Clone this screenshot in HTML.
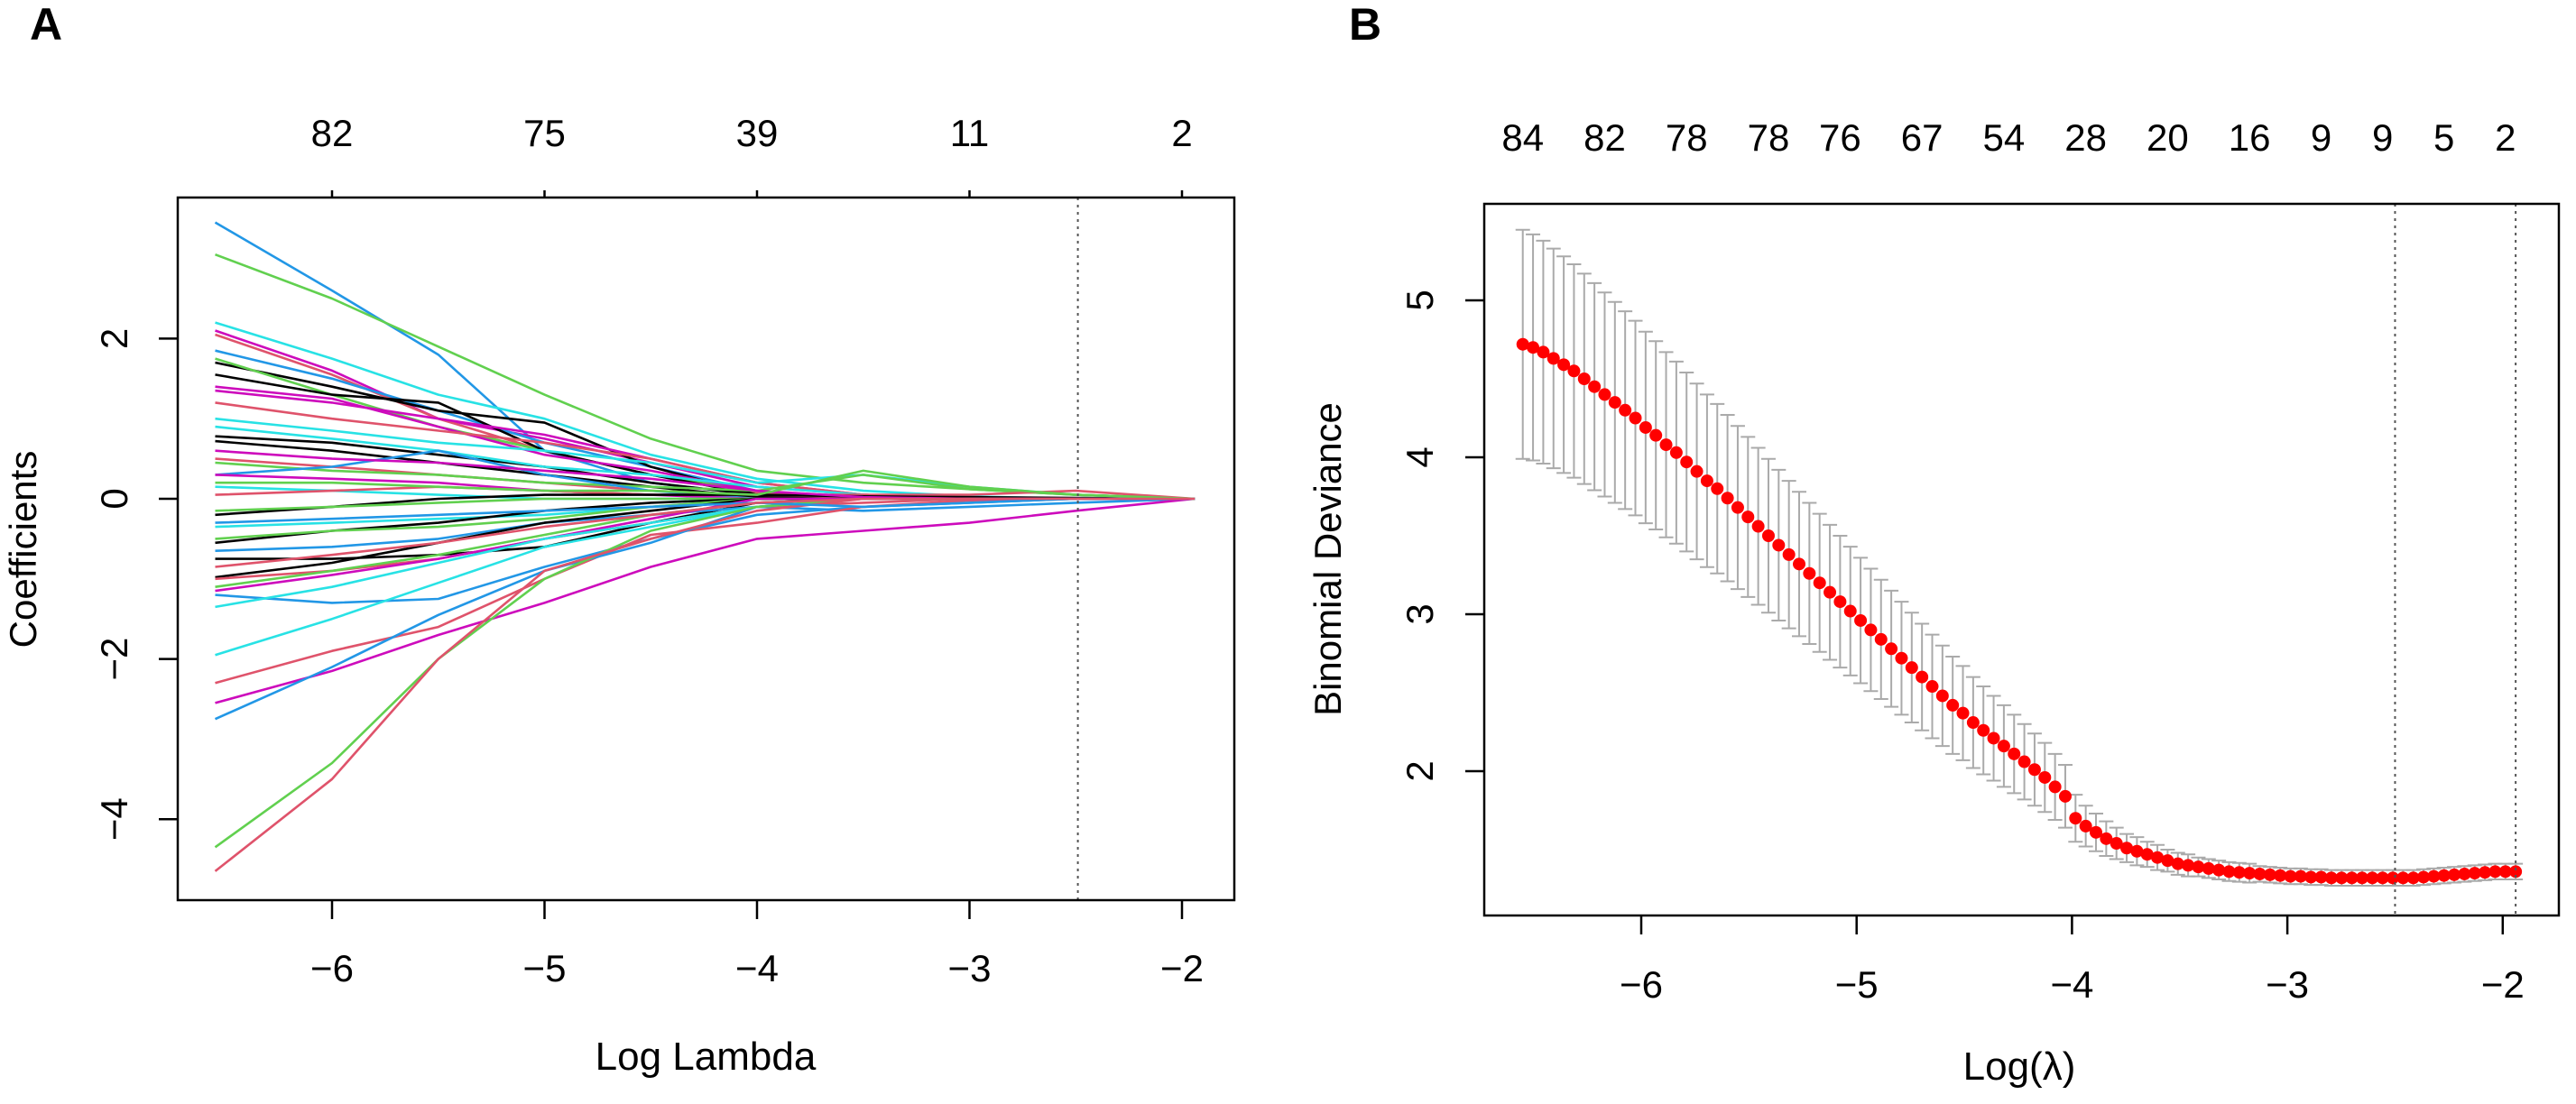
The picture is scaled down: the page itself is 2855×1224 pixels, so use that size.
<!DOCTYPE html>
<html><head><meta charset="utf-8"><style>
html,body{margin:0;padding:0;background:#fff}
svg{display:block}
text{font-family:"Liberation Sans Narrow","Liberation Sans",sans-serif;fill:#000}
</style></head><body>
<svg id="chart" width="2855" height="1224" viewBox="0 0 2855 1224" xmlns="http://www.w3.org/2000/svg">
<text x="33" y="44" font-size="50" font-weight="bold" style="font-family:'Liberation Sans',sans-serif">A</text>
<text x="1495" y="44" font-size="50" font-weight="bold" style="font-family:'Liberation Sans',sans-serif">B</text>
<g id="pa"></g>
<g id="pb"></g>
</svg>
<script>
// ---------- Panel A data ----------
const aKnotsX = [-6.55,-6,-5.5,-5,-4.5,-4,-3.5,-3,-2.5,-1.94];
const aXTicks = [-6,-5,-4,-3,-2];
const aTopLabels = ["82","75","39","11","2"];
const aYTicks = [-4,-2,0,2];
const aVline = -2.49;
const aColors = ["#2297E6","#61D04F","#28E2E5","#CD0BBC","#DF536B","#2297E6","#000000","#61D04F","#000000","#CD0BBC","#CD0BBC","#DF536B","#28E2E5","#000000","#000000","#28E2E5","#DF536B","#61D04F","#2297E6","#CD0BBC","#28E2E5","#DF536B","#000000","#61D04F","#28E2E5","#000000","#61D04F","#000000","#2297E6","#000000","#DF536B","#61D04F","#CD0BBC","#2297E6","#28E2E5","#28E2E5","#DF536B","#CD0BBC","#2297E6","#61D04F","#DF536B","#CD0BBC","#2297E6","#61D04F","#DF536B"];
const aPaths = [
[3.45,2.6,1.8,0.6,0.2,0.05,0.02,0,0,0],
[3.05,2.5,1.9,1.3,0.75,0.35,0.2,0.12,0.05,0],
[2.2,1.75,1.3,1.0,0.55,0.25,0.1,0.03,0,0],
[2.1,1.6,1.0,0.75,0.45,0.15,0.05,0,0,0],
[2.05,1.55,1.0,0.6,0.3,0.08,0,0,0,0],
[1.85,1.5,1.1,0.7,0.4,0.1,0,0,0,0],
[1.7,1.4,1.1,0.95,0.4,0.05,0,0,0,0],
[1.75,1.3,0.9,0.6,0.3,0.1,0,0,0,0],
[1.55,1.3,1.2,0.6,0.3,0.05,0,0,0,0],
[1.4,1.25,0.9,0.55,0.35,0.1,0,0,0,0],
[1.35,1.2,1.0,0.8,0.5,0.2,0.05,0,0,0],
[1.2,1.0,0.85,0.7,0.5,0.2,0.05,0,0,0],
[1.0,0.85,0.7,0.6,0.45,0.2,0.3,0.15,0.05,0],
[0.78,0.7,0.55,0.4,0.2,0.05,0,0,0,0],
[0.72,0.6,0.45,0.3,0.15,0.02,0,0,0,0],
[0.9,0.75,0.6,0.4,0.3,0.15,0.05,0,0,0],
[0.5,0.4,0.3,0.2,0.1,0.05,0.02,0,0,0],
[0.45,0.35,0.3,0.2,0.15,0.1,0.3,0.12,0.05,0],
[0.3,0.4,0.6,0.3,0.1,0,0,0,0,0],
[0.3,0.25,0.2,0.1,0.05,0,0,0,0,0],
[0.15,0.1,0.05,0,0,0,0,0,0,0],
[0.05,0.1,0.15,0.1,0.05,0.05,0.05,0.05,0.1,0],
[-0.2,-0.1,0.0,0.05,0.05,0.05,0.03,0.02,0.01,0],
[-0.15,-0.1,-0.05,0,0,0,0,0,0,0],
[-0.35,-0.3,-0.25,-0.2,-0.1,0,0,0,0,0],
[-0.55,-0.4,-0.3,-0.15,-0.05,0,0,0,0,0],
[-0.5,-0.4,-0.35,-0.25,-0.1,0,0,0,0,0],
[-0.75,-0.75,-0.7,-0.6,-0.3,-0.05,0,0,0,0],
[-0.65,-0.6,-0.5,-0.3,-0.2,-0.1,-0.15,-0.1,-0.05,0],
[-0.98,-0.8,-0.55,-0.3,-0.15,0,0,0,0,0],
[-1.0,-0.9,-0.75,-0.5,-0.3,-0.1,-0.05,0,0,0],
[-1.1,-0.9,-0.7,-0.45,-0.2,-0.05,0,0,0,0],
[-1.15,-0.95,-0.75,-0.5,-0.25,0,0,0,0,0],
[-1.2,-1.3,-1.25,-0.85,-0.5,-0.2,-0.1,-0.05,0,0],
[-1.35,-1.1,-0.8,-0.5,-0.3,-0.1,0,0,0,0],
[-1.95,-1.5,-1.05,-0.6,-0.35,-0.1,0,0,0,0],
[-2.3,-1.9,-1.6,-1.0,-0.45,-0.3,-0.1,-0.02,0,0],
[-2.55,-2.15,-1.7,-1.3,-0.85,-0.5,-0.4,-0.3,-0.15,0],
[-2.75,-2.1,-1.45,-0.9,-0.55,-0.1,0,0,0,0],
[-4.35,-3.3,-2.0,-1.0,-0.4,-0.1,0,0,0,0],
[-4.65,-3.5,-2.0,-0.9,-0.5,-0.15,0,0,0,0],
[0.6,0.5,0.45,0.35,0.25,0.1,0.02,0,0,0],
[-0.3,-0.25,-0.2,-0.15,-0.1,-0.05,-0.1,-0.05,0,0],
[0.2,0.2,0.15,0.1,0.1,0.05,0.35,0.15,0.05,0],
[-0.85,-0.7,-0.55,-0.35,-0.2,-0.05,0,0,0,0]
];
// ---------- Panel B data ----------
const bMean = [4.72,4.70,4.67,4.63,4.59,4.55,4.50,4.45,4.40,4.35,4.30,4.25,
4.19,4.14,4.08,4.03,3.97,3.91,3.85,3.80,3.74,3.68,3.62,3.56,
3.50,3.44,3.38,3.32,3.26,3.20,3.14,3.08,3.02,2.96,2.90,2.84,
2.78,2.72,2.66,2.60,2.54,2.48,2.42,2.37,2.31,2.26,2.21,2.16,
2.11,2.06,2.01,1.96,1.90,1.84,1.70,1.65,1.61,1.57,1.54,1.51,
1.49,1.47,1.45,1.43,1.41,1.40,1.39,1.38,1.37,1.36,1.355,1.35,
1.345,1.34,1.335,1.33,1.33,1.325,1.325,1.32,1.32,1.32,1.32,1.32,
1.32,1.32,1.32,1.32,1.325,1.33,1.335,1.34,1.345,1.35,1.355,1.36,1.36,1.36];
const bSE = [.73,.72,.71,.70,.69,.68,.67,.66,.65,.64,.63,.62,
.61,.60,.59,.58,.57,.56,.55,.54,.53,.52,.51,.50,
.49,.48,.47,.46,.45,.44,.43,.42,.41,.40,.39,.38,
.37,.36,.35,.34,.33,.32,.31,.30,.29,.28,.27,.26,
.25,.24,.23,.22,.21,.20,.15,.13,.12,.11,.10,.09,
.09,.08,.08,.07,.07,.07,.06,.06,.06,.06,.06,.06,
.05,.05,.05,.05,.05,.05,.05,.05,.05,.05,.05,.05,
.05,.05,.05,.05,.05,.05,.05,.05,.05,.05,.05,.05,.05,.05];
const bLogLambdaStart = -6.55, bLogLambdaEnd = -1.94;
const bXTicks = [-6,-5,-4,-3,-2];
const bYTicks = [2,3,4,5];
const bTopIdx = [0,8,16,24,31,39,47,55,63,71,78,84,90,96];
const bTopLabels = ["84","82","78","78","76","67","54","28","20","16","9","9","5","2"];
const bVlines = [-2.50,-1.94];

const NS="http://www.w3.org/2000/svg";
function mk(parent,tag,attrs,txt){const e=document.createElementNS(NS,tag);for(const k in attrs)e.setAttribute(k,attrs[k]);if(txt!==undefined)e.textContent=txt;parent.appendChild(e);return e;}

// ----- Panel A -----
(function(){
const g=document.getElementById('pa');
const L=197,R=1368,T=219,B=998;
const xs=v=>368+(v+6)*235.5;
const ys=v=>553-v*88.8;
aPaths.forEach((p,i)=>{
  const d=p.map((v,j)=>(j?'L':'M')+xs(aKnotsX[j]).toFixed(1)+','+ys(v).toFixed(1)).join(' ');
  const el=mk(g,'path',{d:d,fill:'none',stroke:aColors[i%aColors.length],'stroke-width':2.6,'stroke-linejoin':'round'});
  
  
});
const vl=mk(g,'line',{x1:xs(aVline),x2:xs(aVline),y1:T,y2:B,stroke:'#555','stroke-width':2,'stroke-dasharray':'3,5'});


const box=mk(g,'rect',{x:L,y:T,width:R-L,height:B-T,fill:'none',stroke:'#000','stroke-width':2.5});


aXTicks.forEach((t,i)=>{
  const x=xs(t);
  mk(g,'line',{x1:x,x2:x,y1:B,y2:B+21,stroke:'#000','stroke-width':2.5});
  mk(g,'line',{x1:x,x2:x,y1:T,y2:T-8,stroke:'#000','stroke-width':2.5});
  const tl=mk(g,'text',{x:x,y:1088,'font-size':42,'text-anchor':'middle'},'\u2212'+Math.abs(t));
  
  
  const top=mk(g,'text',{x:x,y:162,'font-size':42,'text-anchor':'middle'},aTopLabels[i]);
  
  
});
aYTicks.forEach(t=>{
  const y=ys(t);
  mk(g,'line',{x1:L,x2:L-21,y1:y,y2:y,stroke:'#000','stroke-width':2.5});
  const tl=mk(g,'text',{x:0,y:0,'font-size':42,'text-anchor':'middle',transform:`translate(141,${y}) rotate(-90)`},(t<0?'\u2212':'')+Math.abs(t));
  
  
});
const xt=mk(g,'text',{x:782,y:1186,'font-size':44,'text-anchor':'middle'},'Log Lambda');


const yt=mk(g,'text',{x:0,y:0,'font-size':42,'text-anchor':'middle',transform:'translate(40,609) rotate(-90)',style:"font-family:'Liberation Sans',sans-serif"},'Coefficients');


})();

// ----- Panel B -----
(function(){
const g=document.getElementById('pb');
const L=1645,R=2836,T=226,B=1015;
const xs=v=>1819+(v+6)*238.7;
const ys=v=>333-(v-5)*174;
const n=bMean.length;
const lx=i=>bLogLambdaStart+(bLogLambdaEnd-bLogLambdaStart)*i/(n-1);
for(let i=0;i<n;i++){
  const x=xs(lx(i)),yu=ys(bMean[i]+bSE[i]),yl=ys(bMean[i]-bSE[i]);
  const eb=mk(g,'path',{d:`M${x},${yu}L${x},${yl}M${x-8},${yu}L${x+8},${yu}M${x-8},${yl}L${x+8},${yl}`,stroke:'#aaaaaa','stroke-width':2,fill:'none'});
  
  
}
for(let i=0;i<n;i++){
  const c=mk(g,'circle',{cx:xs(lx(i)),cy:ys(bMean[i]),r:7,fill:'#ff0000'});
  
  
}
bVlines.forEach(v=>{
  const l=mk(g,'line',{x1:xs(v),x2:xs(v),y1:T,y2:B,stroke:'#555','stroke-width':2,'stroke-dasharray':'3,5'});
  
  
});
const box=mk(g,'rect',{x:L,y:T,width:R-L,height:B-T,fill:'none',stroke:'#000','stroke-width':2.5});


bXTicks.forEach(t=>{
  const x=xs(t);
  mk(g,'line',{x1:x,x2:x,y1:B,y2:B+21,stroke:'#000','stroke-width':2.5});
  const tl=mk(g,'text',{x:x,y:1106,'font-size':42,'text-anchor':'middle'},'\u2212'+Math.abs(t));
  
  
});
bTopIdx.forEach((idx,i)=>{
  const tl=mk(g,'text',{x:xs(lx(idx)),y:167,'font-size':42,'text-anchor':'middle'},bTopLabels[i]);
  
  
});
bYTicks.forEach(t=>{
  const y=ys(t);
  mk(g,'line',{x1:L,x2:L-21,y1:y,y2:y,stroke:'#000','stroke-width':2.5});
  const tl=mk(g,'text',{x:0,y:0,'font-size':42,'text-anchor':'middle',transform:`translate(1588,${y}) rotate(-90)`},String(t));
  
  
});
const xt=mk(g,'text',{x:2238,y:1197,'font-size':44,'text-anchor':'middle'},'Log(\u03bb)');


const yt=mk(g,'text',{x:0,y:0,'font-size':42,'text-anchor':'middle',transform:'translate(1486,620) rotate(-90)',style:"font-family:'Liberation Sans',sans-serif"},'Binomial Deviance');


})();
</script>
</body></html>
